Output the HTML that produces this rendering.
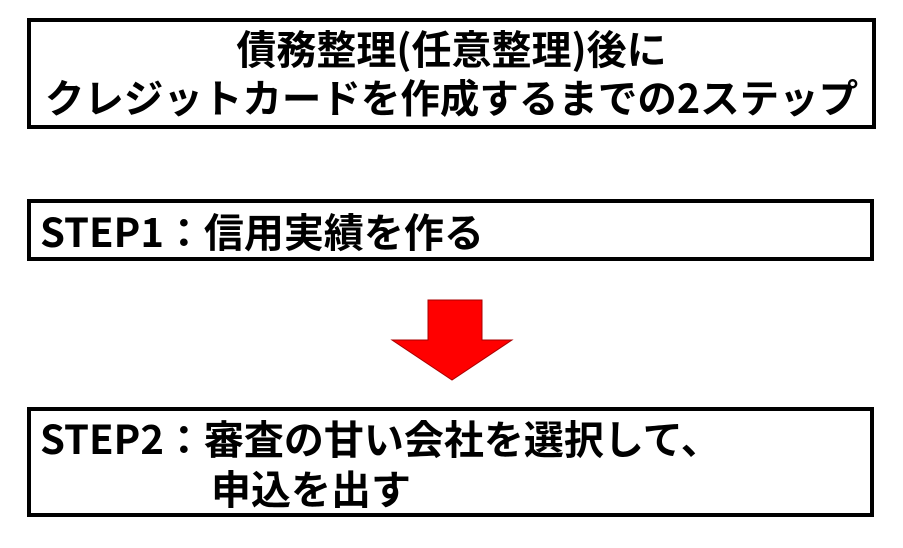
<!DOCTYPE html>
<html><head><meta charset="utf-8"><style>
body{margin:0;width:903px;height:548px;background:#fff;position:relative;overflow:hidden;font-family:"Noto Sans CJK JP","Liberation Sans",sans-serif;font-weight:bold;color:#000}
.b{position:absolute;border:4px solid #000;box-sizing:border-box;background:#fff}
.t{position:absolute;white-space:nowrap;font-size:40px;line-height:50px}
</style></head><body>
<div class="b" style="left:27px;top:18px;width:849px;height:111px"></div>
<div class="t" style="left:27px;top:22px;width:849px;text-align:center">債務整理(任意整理)後に</div>
<div class="t" style="left:27px;top:72px;width:849px;text-align:center;font-size:39.5px">クレジットカードを作成するまでの2ステップ</div>
<div class="b" style="left:27px;top:199px;width:847px;height:62px"></div>
<div class="t" style="left:40px;top:205px">STEP1：信用実績を作る</div>
<svg style="position:absolute;left:0;top:0" width="903" height="548"><polygon points="428,300 482,300 482,340 512,340 452,380 392,340 428,340" fill="#f00" stroke="#a00" stroke-width="1"/></svg>
<div class="b" style="left:27px;top:407px;width:847px;height:110px"></div>
<div class="t" style="left:40px;top:412px">STEP2：審査の甘い会社を選択して、</div>
<div class="t" style="left:211px;top:462px">申込を出す</div>
</body></html>
